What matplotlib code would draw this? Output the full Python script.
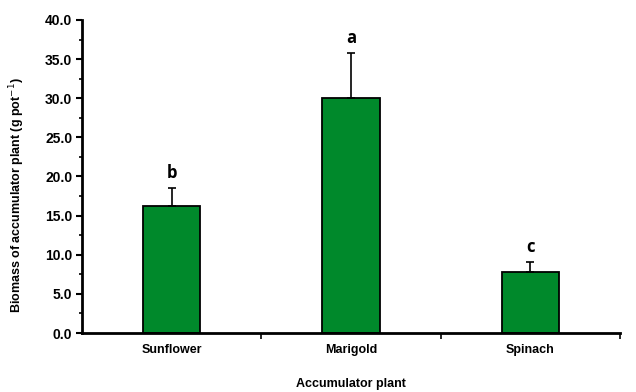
#!/usr/bin/env python3

import matplotlib
matplotlib.use("Agg")
import matplotlib.pyplot as plt
from matplotlib.ticker import MultipleLocator

# Data
plants = ["Sunflower", "Marigold", "Spinach"]
biomass = [16.2, 30.0, 7.8]
error_up = [2.3, 5.8, 1.3]
letters = ["b", "a", "c"]


def main():
    plt.rcParams["font.family"] = ["Liberation Sans", "DejaVu Sans"]

    fig = plt.figure(figsize=(6.36, 3.92), dpi=100)
    ax = fig.add_axes([0.129, 0.1505, 0.846, 0.7985])

    x = list(range(len(plants)))
    ax.bar(x, biomass, width=0.32, color="#00892B", edgecolor="black",
           linewidth=1.3, zorder=2)
    ax.errorbar(x, biomass, yerr=[[0] * len(x), error_up], fmt="none",
                ecolor="black", elinewidth=1.2, capsize=3, capthick=1.2,
                zorder=3)

    # Significance letters above error bars
    for xi, v, e, lab in zip(x, biomass, error_up, letters):
        ax.text(xi, v + e + 0.8, lab, ha="center", va="bottom",
                fontsize=12, fontweight="bold", family="Open Sans")

    ax.set_xlim(-0.5, len(plants) - 0.5)

    ax.yaxis.set_major_locator(MultipleLocator(5))
    ax.yaxis.set_minor_locator(MultipleLocator(2.5))
    yt = [0, 5, 10, 15, 20, 25, 30, 35, 40]
    ax.set_yticks(yt)
    ax.set_yticklabels([f"{t:.1f}" for t in yt], fontsize=10,
                       fontweight="bold")
    ax.set_ylim(0, 40)

    ax.set_xticks(x)
    ax.set_xticklabels(plants, fontsize=9, fontweight="bold")
    ax.set_xticks([0.5, 1.5, 2.5], minor=True)
    ax.tick_params(axis="x", which="major", length=0, pad=8)
    ax.tick_params(axis="x", which="minor", length=4, width=1.2)
    ax.tick_params(axis="y", which="major", length=4, width=1.5, pad=3)
    ax.tick_params(axis="y", which="minor", length=2, width=1.2)

    ax.set_xlabel("Accumulator plant", fontsize=9, fontweight="bold",
                  labelpad=16)
    ax.set_ylabel("Biomass of accumulator plant (g pot$^{-1}$)", fontsize=9,
                  fontweight="bold")
    # The y label sits a bit below the middle of the axis
    ax.yaxis.set_label_coords(-0.102, 0.44)

    for side in ["top", "right"]:
        ax.spines[side].set_visible(False)
    for side in ["left", "bottom"]:
        ax.spines[side].set_linewidth(2)

    fig.savefig("out.png", dpi=100)


if __name__ == "__main__":
    main()
